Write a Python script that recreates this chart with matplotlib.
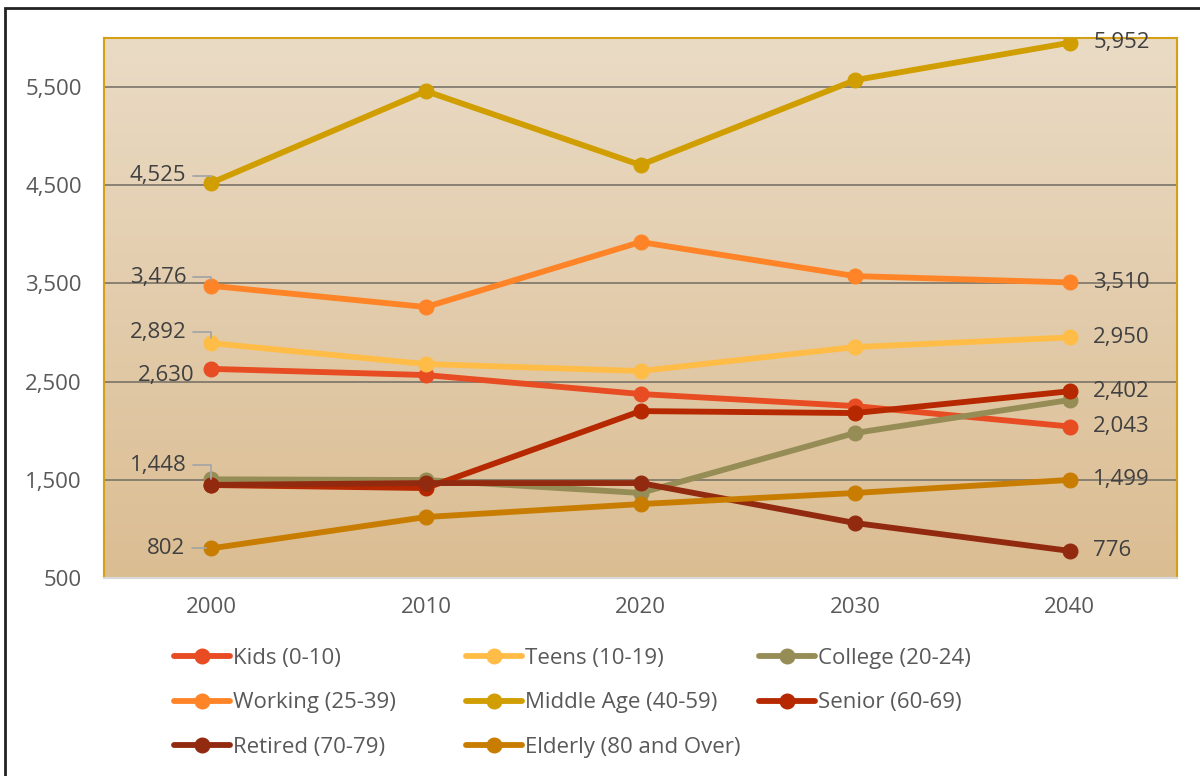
import numpy as np
import matplotlib
matplotlib.use('Agg')
import matplotlib.pyplot as plt
from matplotlib.patches import Rectangle

plt.rcParams['font.family'] = ['Open Sans', 'DejaVu Sans']

# Data
years = ['2000', '2010', '2020', '2030', '2040']
kids = [2630, 2567, 2374, 2251, 2043]
teens = [2892, 2679, 2608, 2852, 2950]
college = [1505, 1498, 1366, 1977, 2313]
working = [3476, 3260, 3922, 3575, 3510]
middle_age = [4525, 5459, 4706, 5571, 5952]
senior = [1447, 1416, 2200, 2180, 2402]
retired = [1448, 1467, 1467, 1060, 776]
elderly = [802, 1121, 1253, 1366, 1499]

names = ['Kids (0-10)', 'Teens (10-19)', 'College (20-24)', 'Working (25-39)',
         'Middle Age (40-59)', 'Senior (60-69)', 'Retired (70-79)', 'Elderly (80 and Over)']
series = [kids, teens, college, working, middle_age, senior, retired, elderly]
colors = ['#E84C22', '#FFBD47', '#968C55', '#FF8427',
          '#D09E00', '#B52800', '#922A10', '#C87D00']

fig = plt.figure(figsize=(12, 7.76), dpi=100)
ax = fig.add_axes([104 / 1200, 1 - 578 / 776, (1177 - 104) / 1200, (578 - 38) / 776])

# gradient background of plot area
grad = np.linspace(0, 1, 256).reshape(-1, 1)
top = np.array([0xEA, 0xDB, 0xC5]) / 255
bot = np.array([0xDB, 0xBD, 0x92]) / 255
img = top + (bot - top) * grad[:, :, None]
ax.imshow(img, extent=[0, 1, 0, 1], transform=ax.transAxes, aspect='auto', zorder=0)

x = np.arange(len(years))
lines = {}
for name, vals, c in zip(names, series, colors):
    ln, = ax.plot(x, vals, color=c, lw=4.2, marker='o', ms=10.5, zorder=3,
                  solid_capstyle='round', label=name)
    lines[name] = ln

ax.set_xlim(-0.5, 4.5)
ax.set_ylim(500, 6000)
ax.set_yticks([500, 1500, 2500, 3500, 4500, 5500])
ax.set_yticklabels(['500', '1,500', '2,500', '3,500', '4,500', '5,500'])
ax.set_xticks(x)
ax.set_xticklabels(years)
ax.tick_params(length=0, labelsize=16, labelcolor='#595959')
ax.tick_params(axis='y', pad=16)
ax.tick_params(axis='x', pad=14)
ax.yaxis.grid(True, color='#7A7468', lw=1.2, zorder=1)
ax.set_axisbelow(True)
for s in ['left', 'top', 'right']:
    ax.spines[s].set_color('#D4A017')
    ax.spines[s].set_linewidth(1.5)
ax.spines['bottom'].set_color('#D9D9D9')
ax.spines['bottom'].set_linewidth(1.5)

lab_kw = dict(fontsize=16, color='#404040', zorder=5)
leader = dict(arrowstyle='-', color='#A6A6A6', lw=1.3, shrinkA=3, shrinkB=4,
              connectionstyle='angle,angleA=0,angleB=90', relpos=(1, 0.5))


def fmt(v):
    return f'{v:,}'


# left labels (2000)
ax.annotate(fmt(middle_age[0]), (0, middle_age[0]), xytext=(-18, 5), textcoords='offset points',
            ha='right', va='center', arrowprops=leader, **lab_kw)
ax.annotate(fmt(working[0]), (0, working[0]), xytext=(-18, 6), textcoords='offset points',
            ha='right', va='center', arrowprops=leader, **lab_kw)
ax.annotate(fmt(teens[0]), (0, teens[0]), xytext=(-18, 8), textcoords='offset points',
            ha='right', va='center', arrowprops=leader, **lab_kw)
ax.annotate(fmt(kids[0]), (0, kids[0]), xytext=(-12, -5), textcoords='offset points',
            ha='right', va='center', **lab_kw)
ax.annotate(fmt(retired[0]), (0, retired[0]), xytext=(-18, 14), textcoords='offset points',
            ha='right', va='center', arrowprops=leader, **lab_kw)
ax.annotate(fmt(elderly[0]), (0, elderly[0]), xytext=(-19, 0), textcoords='offset points',
            ha='right', va='center', arrowprops=leader, **lab_kw)

# right labels (2040)
for vals in [middle_age, working, teens, senior, kids, elderly, retired]:
    ax.annotate(fmt(vals[-1]), (4, vals[-1]), xytext=(17, 0), textcoords='offset points',
                ha='left', va='center', **lab_kw)

# legend: three equal-width columns
cols = [['Kids (0-10)', 'Working (25-39)', 'Retired (70-79)'],
        ['Teens (10-19)', 'Middle Age (40-59)', 'Elderly (80 and Over)'],
        ['College (20-24)', 'Senior (60-69)']]
col_x = [174 / 1200, 466 / 1200, 759 / 1200]
for cx, cn in zip(col_x, cols):
    leg = fig.legend([lines[n] for n in cn], cn, loc='upper left',
                     bbox_to_anchor=(cx, 1 - 648 / 776), frameon=False,
                     fontsize=16, handlelength=2.5, handletextpad=0.15,
                     labelspacing=1.05, borderaxespad=0, borderpad=0)
    for t in leg.get_texts():
        t.set_color('#595959')

# outer chart border (cropped on right/bottom)
fig.add_artist(Rectangle((5 / 1200, -0.05), 1.1, 1 - 8 / 776 + 0.05,
                         transform=fig.transFigure, fill=False,
                         edgecolor='#222222', lw=2, clip_on=False))

fig.savefig('out.png', dpi=100)
